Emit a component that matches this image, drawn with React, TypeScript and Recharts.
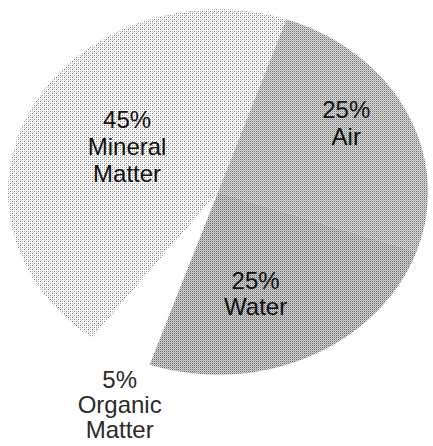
import React from "react";
import { PieChart, Pie, Cell } from "recharts";

// ── Data ─────────────────────────────────────────────────────

const categories = ["Mineral Matter", "Organic Matter", "Water", "Air"];
const shares = [45, 5, 25, 25];
const fills = ["url(#dotsLight)", "#ffffff", "url(#dotsDark)", "url(#dotsMid)"];

const data = categories.map((name, i) => ({ name, value: shares[i] }));

// label placement: radius factor and small angle nudge per slice
const labelPos: Record<string, { r: number; da: number; lh: number }> = {
  "Mineral Matter": { r: 0.5, da: -2, lh: 27 },
  "Organic Matter": { r: 1.25, da: 6, lh: 25 },
  Water: { r: 0.58, da: -8, lh: 26 },
  Air: { r: 0.72, da: 6, lh: 27 },
};

const SQUASH = 0.87;
const CX = 218;
const CY = 192;
const RAD = Math.PI / 180;

const renderLabel = (props: any) => {
  const { cx, cy, midAngle, outerRadius, name, value } = props;
  const p = labelPos[name] ?? { r: 0.6, da: 0, lh: 26 };
  const a = (midAngle + p.da) * RAD;
  const r = outerRadius * p.r;
  const x = cx + r * Math.cos(a);
  const y = cy - r * Math.sin(a) * SQUASH;
  const lines = [`${value}%`, ...String(name).split(" ")];
  const top = y - ((lines.length - 1) * p.lh) / 2;
  return (
    <text
      x={x}
      y={top}
      textAnchor="middle"
      dominantBaseline="central"
      style={{
        fontFamily: "'Liberation Sans', Arial, sans-serif",
        fontSize: 24,
        fill: name === "Organic Matter" ? "#2a2a2a" : "#111",
      }}
    >
      {lines.map((l, i) => (
        <tspan key={i} x={x} y={top + i * p.lh}>
          {l}
        </tspan>
      ))}
    </text>
  );
};

const unsquash = `scale(1 ${1 / SQUASH})`;

const Patterns = () => (
  <svg width={0} height={0} style={{ position: "absolute" }}>
    <defs>
      <pattern id="dotsLight" width={4} height={4} patternUnits="userSpaceOnUse" patternTransform={unsquash}>
        <rect width={4} height={4} fill="#ffffff" />
        <rect x={0} y={0} width={1} height={1} fill="#6e6e6e" />
        <rect x={2} y={2} width={1} height={1} fill="#8a8a8a" />
        <rect x={2} y={0} width={1} height={1} fill="#c4c4c4" />
        <rect x={0} y={2} width={1} height={1} fill="#bdbdbd" />
        <rect x={1} y={3} width={1} height={1} fill="#dddddd" />
      </pattern>
      <pattern id="dotsDark" width={2} height={2} patternUnits="userSpaceOnUse" patternTransform={unsquash}>
        <rect width={2} height={2} fill="#d8d8d8" />
        <rect x={0} y={0} width={1} height={1} fill="#5e5e5e" />
        <rect x={1} y={1} width={1} height={1} fill="#a8a8a8" />
      </pattern>
      <pattern id="dotsMid" width={2} height={2} patternUnits="userSpaceOnUse" patternTransform={unsquash}>
        <rect width={2} height={2} fill="#dedede" />
        <rect x={0} y={0} width={1} height={1} fill="#6a6a6a" />
        <rect x={1} y={1} width={1} height={1} fill="#b0b0b0" />
      </pattern>
    </defs>
  </svg>
);

export default function App() {
  return (
    <div style={{ width: 433, height: 446, background: "#fff" }}>
      <style>{`
        body { margin: 0; }
        .recharts-pie-sector { transform: scaleY(${SQUASH}); transform-origin: ${CX}px ${CY}px; }
      `}</style>
      <Patterns />
      <PieChart width={433} height={446} margin={{ top: 0, right: 0, bottom: 0, left: 0 }}>
        <Pie
          data={data}
          dataKey="value"
          nameKey="name"
          cx={CX}
          cy={CY}
          outerRadius={210}
          startAngle={71}
          endAngle={431}
          stroke="none"
          label={renderLabel}
          labelLine={false}
          isAnimationActive={false}
        >
          {data.map((d, i) => (
            <Cell key={d.name} fill={fills[i]} />
          ))}
        </Pie>
      </PieChart>
    </div>
  );
}
